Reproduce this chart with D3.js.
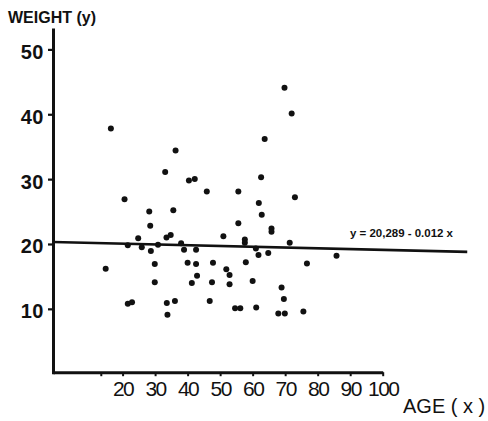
<!DOCTYPE html>
<html>
<head>
<meta charset="utf-8">
<script src="https://cdn.jsdelivr.net/npm/d3@7/dist/d3.min.js"></script>
<style>
  html, body { margin: 0; padding: 0; background: #fff; }
  svg { display: block; }
</style>
</head>
<body>
<svg id="chart" width="488" height="421"></svg>
<script>
// ---- data ----
const ages = [16.4, 36.3, 33.1, 40.4, 42.2, 45.9, 20.6, 28.2, 35.6, 28.5, 24.8, 33.5, 34.8,
  69.8, 72.0, 63.7, 62.6, 55.6, 73.0, 61.9, 62.8, 55.6, 65.8, 65.8, 51.0, 57.6, 57.6,
  21.6, 25.9, 30.9, 28.7, 38.0, 38.9, 42.6, 14.8, 29.9, 40.0, 42.6, 47.8, 42.9, 41.3,
  29.9, 47.5, 21.6, 22.9, 33.6, 36.1, 46.8, 33.8, 61.0, 71.4, 61.8, 64.8, 85.8, 57.9,
  76.7, 51.9, 52.9, 52.9, 60.0, 68.9, 69.6, 54.6, 56.2, 61.1, 67.9, 69.9, 75.6];
const weights = [37.8, 34.4, 31.1, 29.8, 30.0, 28.1, 26.9, 25.0, 25.2, 22.8, 20.9, 21.0, 21.4,
  44.1, 40.1, 36.2, 30.3, 28.1, 27.2, 26.3, 24.5, 23.2, 22.4, 21.9, 21.2, 20.7, 20.2,
  19.8, 19.5, 19.9, 18.9, 20.1, 19.1, 19.1, 16.2, 16.9, 17.1, 16.9, 17.1, 15.1, 14.0,
  14.1, 14.1, 10.8, 11.0, 10.9, 11.2, 11.2, 9.1, 19.3, 20.2, 18.3, 18.6, 18.2, 17.2,
  17.0, 16.1, 15.2, 13.8, 14.3, 13.3, 11.5, 10.1, 10.1, 10.2, 9.3, 9.3, 9.6];
const xTicks = [13.3, 20, 30, 40, 50, 60, 70, 80, 90, 100];
const xTickLabels = ["", "20", "30", "40", "50", "60", "70", "80", "90", "100"];
const yTicks = [10, 20, 30, 40, 50];
const yTickLabels = ["10", "20", "30", "40", "50"];
const intercept = 20.289;
const slope = -0.012;
const lineRange = [-1.4, 126];
const xDomain = [-1.4, 100];
const yDomain = [0, 53.3];
const equationText = "y = 20,289 - 0.012 x";
const yTitle = "WEIGHT (y)";
const xTitle = "AGE ( x )";

// ---- drawing ----
const svg = d3.select("#chart");
const ink = "#111";

const x = d3.scaleLinear().domain(xDomain).range([53, 382.7]);
const y = d3.scaleLinear().domain(yDomain).range([373.7, 28]);

// regression line
const lineGen = d3.line().x(d => x(d)).y(d => y(intercept + slope * d));
svg.append("path")
  .datum(lineRange)
  .attr("d", lineGen)
  .attr("fill", "none")
  .attr("stroke", ink)
  .attr("stroke-width", 2.6);

// points
svg.append("g").selectAll("circle")
  .data(ages.map((a, i) => [a, weights[i]]))
  .join("circle")
  .attr("cx", d => x(d[0]))
  .attr("cy", d => y(d[1]))
  .attr("r", 3)
  .attr("fill", ink);

// x axis
const xAxis = d3.axisBottom(x)
  .tickValues(xTicks)
  .tickFormat((d, i) => xTickLabels[i])
  .tickSizeInner(4)
  .tickSizeOuter(0)
  .tickPadding(5);
const gx = svg.append("g").attr("transform", `translate(0,${y(0) - 1.5})`).call(xAxis);
gx.select(".domain").attr("stroke", ink).attr("stroke-width", 3);
gx.selectAll(".tick line").attr("stroke", ink).attr("stroke-width", 2);
gx.selectAll(".tick text")
  .attr("fill", ink)
  .style("font-family", "'Liberation Sans', Arial, sans-serif")
  .style("font-size", "21px")
  .style("letter-spacing", "-1.6px");

// y axis
const yAxis = d3.axisLeft(y)
  .tickValues(yTicks)
  .tickFormat((d, i) => yTickLabels[i])
  .tickSizeInner(5)
  .tickSizeOuter(0)
  .tickPadding(4);
const gy = svg.append("g").attr("transform", "translate(53,0)").call(yAxis);
gy.select(".domain").attr("stroke", ink).attr("stroke-width", 3);
gy.selectAll(".tick line").attr("stroke", ink).attr("stroke-width", 2.2);
gy.selectAll(".tick text")
  .attr("fill", ink)
  .attr("dy", "0.45em")
  .style("font-family", "'Liberation Sans', Arial, sans-serif")
  .style("font-size", "20px")
  .style("font-weight", "bold")
  .style("letter-spacing", "0.5px");

// titles
svg.append("text")
  .attr("x", 8).attr("y", 23)
  .attr("fill", ink)
  .style("font-family", "'Liberation Sans', Arial, sans-serif")
  .style("font-size", "16px")
  .style("font-weight", "bold")
  .text(yTitle);

svg.append("text")
  .attr("x", 403).attr("y", 413)
  .attr("fill", ink)
  .style("font-family", "'Liberation Sans', Arial, sans-serif")
  .style("font-size", "20px")
  .text(xTitle);

svg.append("text")
  .attr("x", 350).attr("y", 237)
  .attr("fill", ink)
  .attr("textLength", 103)
  .attr("lengthAdjust", "spacingAndGlyphs")
  .style("font-family", "'Liberation Sans', Arial, sans-serif")
  .style("font-size", "11px")
  .style("font-weight", "bold")
  .text(equationText);
</script>
</body>
</html>
